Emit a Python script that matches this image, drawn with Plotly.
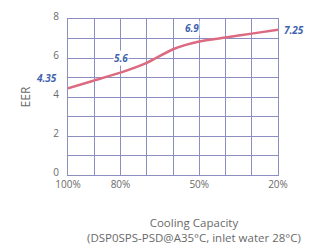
import plotly.graph_objects as go

# Data
capacity = [100, 90, 80, 70, 60, 50, 40, 30, 20]          # cooling capacity (%)
eer = [4.45, 4.85, 5.25, 5.75, 6.45, 6.85, 7.05, 7.25, 7.45]  # EER along the curve

label_x = [100, 80, 50, 20]
label_y = [4.35, 5.6, 6.9, 7.25]
label_text = ["4.35", "5.6", "6.9", "7.25"]

x_grid = [100, 90, 80, 70, 60, 50, 40, 30, 20]
x_ticktext = ["100%", "", "80%", "", "", "50%", "", "", "20%"]
y_grid = [0, 1, 2, 3, 4, 5, 6, 7, 8]
y_ticktext = ["0", "", "2", "", "4", "", "6", "", "8"]

x_title = "Cooling Capacity<br>(DSP0SPS-PSD@A35°C, inlet water 28°C)"
y_title = "EER"

grid_color = "#8a8fc0"
label_color = "#3f63b0"
text_color = "#6a6a6a"
font_family = "Open Sans, Noto Sans, sans-serif"

fig = go.Figure()
fig.add_trace(go.Scatter(
    x=capacity, y=eer, mode="lines",
    line=dict(color="#dc6a80", width=2.5, shape="spline", smoothing=0.6),
    hoverinfo="skip", showlegend=False,
))

# label offsets (styling only)
shifts = [
    dict(xanchor="right", xshift=-10, yshift=12),
    dict(xanchor="center", xshift=0, yshift=8),
    dict(xanchor="center", xshift=-7, yshift=12),
    dict(xanchor="left", xshift=5, yshift=4),
]
for xv, yv, t, s in zip(label_x, label_y, label_text, shifts):
    fig.add_annotation(
        x=xv, y=yv, text=f"<b><i>{t}</i></b>", showarrow=False,
        font=dict(family=font_family, size=10, color=label_color),
        bgcolor="white" if t in ("5.6", "6.9") else "rgba(0,0,0,0)",
        borderpad=0, yanchor="middle", **s,
    )

# x-axis title as a paper annotation (it sits right of the plot centre)
fig.add_annotation(
    xref="paper", yref="paper", x=0.6, y=-0.35, text=x_title, showarrow=False,
    xanchor="center", yanchor="middle", align="center",
    font=dict(family=font_family, size=11.5, color=text_color),
)

fig.update_xaxes(
    range=[100, 20], tickvals=x_grid, ticktext=x_ticktext,
    showgrid=True, gridcolor=grid_color, gridwidth=1,
    showline=True, linecolor=grid_color, mirror=True, zeroline=False,
    ticks="", ticklabelstandoff=0, automargin=False,
    tickfont=dict(family=font_family, size=10, color=text_color),
)
fig.update_yaxes(
    range=[0, 8], tickvals=y_grid, ticktext=y_ticktext,
    showgrid=True, gridcolor=grid_color, gridwidth=1,
    showline=True, linecolor=grid_color, mirror=True, zeroline=False,
    ticks="", ticklabelstandoff=6, ticklabelshift=-3, automargin=False,
    tickfont=dict(family=font_family, size=10, color=text_color),
    title=dict(text=y_title, font=dict(family=font_family, size=12, color=text_color), standoff=20),
)
fig.update_layout(
    width=318, height=251,
    margin=dict(l=68, r=40, t=19, b=76),
    paper_bgcolor="white", plot_bgcolor="white",
)
fig.write_html("out.html", config={"displayModeBar": False},
               post_script="document.body.style.margin='0';")
